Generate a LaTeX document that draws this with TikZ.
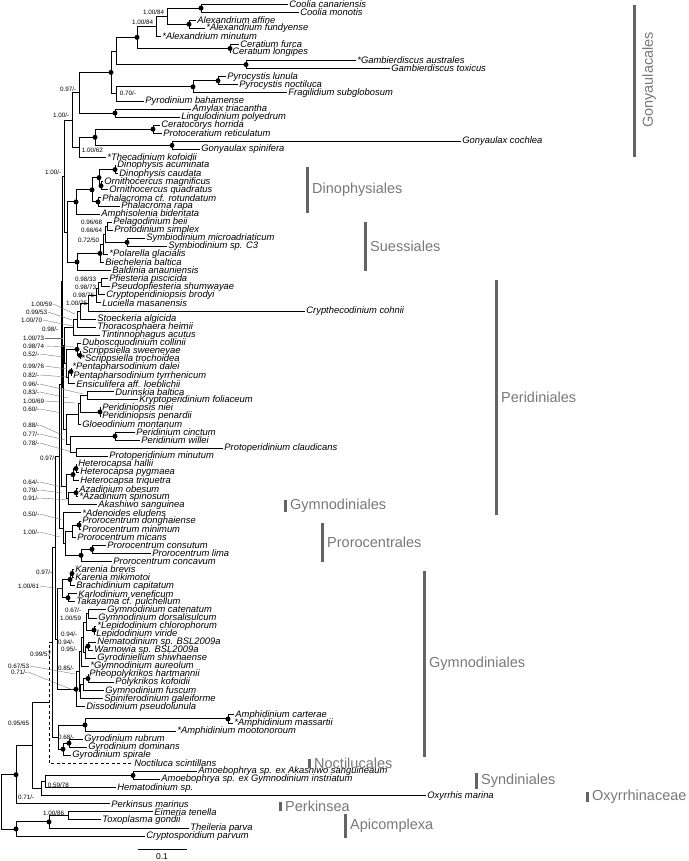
\documentclass[tikz,border=0pt]{standalone}
\usepackage{fontspec}
\setmainfont{Liberation Sans}
\usetikzlibrary{calc}
\definecolor{barc}{RGB}{100,100,100}
\definecolor{cladec}{RGB}{120,120,120}
\definecolor{leadc}{RGB}{110,110,110}
\newcommand\lfx[4]{\coordinate (#1) at (#3,{4+8.078*(#2)}); \node[taxon] (#1l) at (#1) {#4};}
\newcommand\clx[4]{%
  \path let \p1=(#3), \p2=(#4) in (#2pt,{0.5*\y1+0.5*\y2}) coordinate (#1);
  \draw[br] (#3) -- (#1 |- #3) -- (#1 |- #4) -- (#4);}
\newcommand\cld[4]{\clx{#1}{#2}{#3}{#4}\fill (#1) circle (2.5pt);}
\newcommand\supE[4]{\node[sup,anchor=east] (#1) at (#2,#3) {#4};}
\newcommand\supW[4]{\node[sup,anchor=west] (#1) at (#2,#3) {#4};}
\newcommand\lead[6]{\node[sup,anchor=east] (#1) at (#2,#3) {#4}; \coordinate (#1e) at (#5,#6); \draw[lead] (#1.east) -- (#1e);}
\newcommand\clade[5]{\draw[bar] (#1,#2) -- (#1,#3); \node[clade,anchor=west] (#4) at (#1+5,{0.5*#2+0.5*#3}) {#5};}
\begin{document}
\begin{tikzpicture}[x=1pt,y=-1pt,
  br/.style={line width=0.85pt,black},
  taxon/.style={anchor=west,inner xsep=1.2pt,inner ysep=0pt,font=\fontsize{9.4}{9.4}\selectfont\itshape},
  sup/.style={inner sep=0.6pt,font=\fontsize{6.3}{6.3}\selectfont},
  lead/.style={line width=0.35pt,leadc},
  bar/.style={line width=3pt,barc},
  clade/.style={text=cladec,inner sep=0pt,font=\fontsize{14.5}{14.5}\selectfont}]
\useasboundingbox (0,0) rectangle (688,861);
% ---------- leaves ----------
\lfx{L0}{0}{288}{Coolia canariensis}
\lfx{L1}{1}{299}{Coolia monotis}
\lfx{L2}{2}{196}{Alexandrium affine}
\lfx{L3}{3}{205}{*Alexandrium fundyense}
\lfx{L4}{4}{161}{*Alexandrium minutum}
\lfx{L5}{5}{239}{Ceratium furca}
\lfx{L6}{6}{231}{Ceratium longipes}
\lfx{L7}{7}{356}{*Gambierdiscus australes}
\lfx{L8}{8}{390}{Gambierdiscus toxicus}
\lfx{L9}{9}{226}{Pyrocystis lunula}
\lfx{L10}{10}{238}{Pyrocystis noctiluca}
\lfx{L11}{11}{287}{Fragilidium subglobosum}
\lfx{L12}{12}{144}{Pyrodinium bahamense}
\lfx{L13}{13}{191}{Amylax triacantha}
\lfx{L14}{14}{180}{Lingulodinium polyedrum}
\lfx{L15}{15}{160}{Ceratocorys horrida}
\lfx{L16}{16}{162}{Protoceratium reticulatum}
\lfx{L17}{17}{461}{Gonyaulax cochlea}
\lfx{L18}{18}{200}{Gonyaulax spinifera}
\lfx{L19}{19}{106}{*Thecadinium kofoidii}
\lfx{L20}{20}{116}{Dinophysis acuminata}
\lfx{L21}{21}{118}{Dinophysis caudata}
\lfx{L22}{22}{103}{Ornithocercus magnificus}
\lfx{L23}{23}{108}{Ornithocercus quadratus}
\lfx{L24}{24}{101}{Phalacroma cf. rotundatum}
\lfx{L25}{25}{120}{Phalacroma rapa}
\lfx{L26}{26}{100}{Amphisolenia bidentata}
\lfx{L27}{27}{112}{Pelagodinium beii}
\lfx{L28}{28}{113}{Protodinium simplex}
\lfx{L29}{29}{145}{Symbiodinium microadriaticum}
\lfx{L30}{30}{167}{Symbiodinium sp. C3}
\lfx{L31}{31}{108}{*Polarella glacialis}
\lfx{L32}{32}{104}{Biecheleria baltica}
\lfx{L33}{33}{111}{Baldinia anauniensis}
\lfx{L34}{34}{108}{Pfiesteria piscicida}
\lfx{L35}{35}{110}{Pseudopfiesteria shumwayae}
\lfx{L36}{36}{105}{Cryptoperidiniopsis brodyi}
\lfx{L37}{37}{101}{Luciella masanensis}
\lfx{L38}{38}{305}{Crypthecodinium cohnii}
\lfx{L39}{39}{96}{Stoeckeria algicida}
\lfx{L40}{40}{96}{Thoracosphaera heimii}
\lfx{L41}{41}{100}{Tintinnophagus acutus}
\lfx{L42}{42}{81}{Duboscquodinium collinii}
\lfx{L43}{43}{81}{Scrippsiella sweeneyae}
\lfx{L44}{44}{80}{*Scrippsiella trochoidea}
\lfx{L45}{45}{71}{*Pentapharsodinium dalei}
\lfx{L46}{46}{72}{Pentapharsodinium tyrrhenicum}
\lfx{L47}{47}{75}{Ensiculifera aff. loeblichii}
\lfx{L48}{48}{114}{Durinskia baltica}
\lfx{L49}{49}{138}{Kryptoperidinium foliaceum}
\lfx{L50}{50}{101}{Peridiniopsis niei}
\lfx{L51}{51}{101}{Peridiniopsis penardii}
\lfx{L52}{52}{81}{Gloeodinium montanum}
\lfx{L53}{53}{135}{Peridinium cinctum}
\lfx{L54}{54}{140}{Peridinium willei}
\lfx{L55}{55}{223}{Protoperidinium claudicans}
\lfx{L56}{56}{108}{Protoperidinium minutum}
\lfx{L57}{57}{77}{Heterocapsa hallii}
\lfx{L58}{58}{79}{Heterocapsa pygmaea}
\lfx{L59}{59}{79}{Heterocapsa triquetra}
\lfx{L60}{60}{78}{Azadinium obesum}
\lfx{L61}{61}{78}{*Azadinium spinosum}
\lfx{L62}{62}{97}{Akashiwo sanguinea}
\lfx{L63}{63}{81}{*Adenoides eludens}
\lfx{L64}{64}{81}{Prorocentrum donghaiense}
\lfx{L65}{65}{81}{Prorocentrum minimum}
\lfx{L66}{66}{76}{Prorocentrum micans}
\lfx{L67}{67}{106}{Prorocentrum consutum}
\lfx{L68}{68}{151}{Prorocentrum lima}
\lfx{L69}{69}{112}{Prorocentrum concavum}
\lfx{L70}{70}{74}{Karenia brevis}
\lfx{L71}{71}{74}{Karenia mikimotoi}
\lfx{L72}{72}{75}{Brachidinium capitatum}
\lfx{L73}{73}{77}{Karlodinium veneficum}
\lfx{L74}{74}{75}{Takayama cf. pulchellum}
\lfx{L75}{75}{106}{Gymnodinium catenatum}
\lfx{L76}{76}{97}{Gymnodinium dorsalisulcum}
\lfx{L77}{77}{96}{*Lepidodinium chlorophorum}
\lfx{L78}{78}{95}{Lepidodinium viride}
\lfx{L79}{79}{96}{Nematodinium sp. BSL2009a}
\lfx{L80}{80}{93}{Warnowia sp. BSL2009a}
\lfx{L81}{81}{96}{Gyrodiniellum shiwhaense}
\lfx{L82}{82}{89}{*Gymnodinium aureolum}
\lfx{L83}{83}{88}{Pheopolykrikos hartmannii}
\lfx{L84}{84}{114}{Polykrikos kofoidii}
\lfx{L85}{85}{104}{Gymnodinium fuscum}
\lfx{L86}{86}{103}{Spiniferodinium galeiforme}
\lfx{L87}{87}{85}{Dissodinium pseudolunula}
\lfx{L88}{88}{234}{Amphidinium carterae}
\lfx{L89}{89}{233}{*Amphidinium massartii}
\lfx{L90}{90}{176}{*Amphidinium mootonoroum}
\lfx{L91}{91}{83}{Gyrodinium rubrum}
\lfx{L92}{92}{87}{Gyrodinium dominans}
\lfx{L93}{93}{71}{Gyrodinium spirale}
\lfx{L94}{94}{133}{Noctiluca scintillans}
\lfx{L95}{95}{197}{Amoebophrya sp. ex {\itshape Akashiwo sanguineaum}}
\lfx{L96}{96}{160}{Amoebophrya sp. ex {\itshape Gymnodinium instriatum}}
\lfx{L97}{97}{116}{Hematodinium sp.}
\lfx{L98}{98}{426}{Oxyrrhis marina}
\lfx{L99}{99}{110}{Perkinsus marinus}
\lfx{L100}{100}{153}{Eimeria tenella}
\lfx{L101}{101}{101}{Toxoplasma gondii}
\lfx{L102}{102}{189}{Theileria parva}
\lfx{L103}{103}{145}{Cryptosporidium parvum}
% ---------- Gonyaulacales ----------
\cld{c1}{201}{L0}{L1}
\cld{c2}{189}{L2}{L3}
\clx{c3}{167}{c1}{c2}
\clx{c4}{156}{c3}{L4}
\cld{c5}{230}{L5}{L6}
\cld{c6}{137}{c4}{c5}
\cld{c7}{246}{L7}{L8}
\clx{c8}{116}{c6}{c7}
\cld{c9}{218}{L9}{L10}
\cld{c10}{193}{c9}{L11}
\clx{c11}{116}{c10}{L12}
\cld{c12}{111}{c8}{c11}
\cld{c13}{115}{L13}{L14}
\clx{c14}{79}{c12}{c13}
\cld{c15}{153}{L15}{L16}
\cld{c16}{172}{L17}{L18}
\cld{c17}{95}{c15}{c16}
\clx{c18}{79}{c17}{L19}
\clx{GON}{72}{c14}{c18}
% ---------- Dinophysiales / Suessiales ----------
\cld{d1}{115}{L20}{L21}
\cld{d2}{101}{L22}{L23}
\cld{d3}{99}{d1}{d2}
\cld{d4}{98}{L24}{L25}
\cld{d5}{92}{d3}{d4}
\cld{DIN}{76}{d5}{L26}
\clx{s1}{107}{L27}{L28}
\cld{s2}{127}{L29}{L30}
\clx{s3}{105}{s1}{s2}
\clx{s4}{103}{s3}{L31}
\cld{s5}{100}{s4}{L32}
\cld{SUE}{77}{s5}{L33}
\clx{DS}{67}{DIN}{SUE}
\clx{GDS}{64}{GON}{DS}
% ---------- Peridiniales ----------
\clx{p1}{101}{L34}{L35}
\clx{p2}{98}{p1}{L36}
\clx{p3}{96}{p2}{L37}
\clx{p4}{88}{p3}{L38}
\clx{p5}{80}{p4}{L39}
\clx{p6}{77}{p5}{L40}
\clx{p7}{73}{p6}{L41}
\cld{p8}{80}{L43}{L44}
\cld{p9}{77}{L42}{p8}
\cld{p10}{71}{L45}{L46}
\clx{p11}{68}{p10}{L47}
\clx{p12}{66}{p9}{p11}
\clx{p13}{64}{p7}{p12}
\clx{p14}{87}{L48}{L49}
\cld{p15}{100}{L50}{L51}
\clx{p16}{80}{p14}{p15}
\clx{p17}{78}{p16}{L52}
\cld{p18}{115}{L53}{L54}
\clx{p19}{76}{L55}{L56}
\clx{p20}{70}{p18}{p19}
\clx{p21}{66}{p17}{p20}
\clx{p22}{63}{p13}{p21}
\cld{p23}{76}{L57}{L58}
\cld{p24}{73}{p23}{L59}
\cld{p25}{76}{L60}{L61}
\clx{p26}{68}{p25}{L62}
\clx{p27}{66}{p24}{p26}
\clx{X1}{62}{GDS}{p22}
\clx{X1b}{61}{X1}{p27}
% ---------- Prorocentrales ----------
\cld{r1}{79}{L64}{L65}
\clx{r2}{72}{r1}{L66}
\cld{r3}{92}{L67}{L68}
\cld{r4}{81}{r3}{L69}
\clx{r5}{65}{r2}{r4}
\clx{r6}{63}{L63}{r5}
\clx{X2}{59}{X1b}{r6}
% ---------- Gymnodiniales ----------
\cld{k1}{72}{L70}{L71}
\cld{k2}{70}{k1}{L72}
\cld{k3}{68}{L73}{L74}
\clx{k4}{62}{k2}{k3}
\clx{g1}{88}{L75}{L76}
\cld{g2}{94}{L77}{L78}
\clx{g3}{86}{g1}{g2}
\cld{g4}{88}{L79}{L80}
\clx{g5}{85}{g4}{L81}
\clx{g6}{83}{g3}{g5}
\clx{g7}{81}{g6}{L82}
\cld{g8}{88}{L83}{L84}
\clx{g9}{83}{g8}{L85}
\clx{g10}{80}{g9}{L86}
\clx{g11}{79}{g7}{g10}
\cld{g12}{76}{g11}{L87}
\clx{Y1}{57}{k4}{g12}
\clx{X3}{55}{X2}{Y1}
\cld{a1}{228}{L88}{L89}
\cld{a2}{85}{a1}{L90}
\cld{y1}{69}{L91}{L92}
\cld{y2}{63}{y1}{L93}
\clx{a3}{58}{a2}{y2}
\clx{X4}{52}{X3}{a3}
% Noctiluca (dashed)
\path let \p1=(X4), \p2=(L94) in (49pt,{0.5*\y1+0.5*\y2}) coordinate (NX);
\draw[br,dashed,dash pattern=on 3pt off 2.5pt] (X4) -- (NX |- X4) -- (NX |- L94) -- (L94);
% ---------- outgroups ----------
\cld{sy1}{133}{L95}{L96}
\clx{sy2}{45}{sy1}{L97}
\clx{Q}{41}{sy2}{L98}
\clx{O1}{32}{NX}{Q}
\cld{PK}{16}{O1}{L99}
\clx{ap1}{68}{L100}{L101}
\cld{ap2}{49}{ap1}{L102}
\cld{ap3}{16}{ap2}{L103}
\clx{ROOT}{1}{PK}{ap3}
% ---------- support values ----------
\supE{b1}{165}{12}{1.00/84}
\supE{b2}{154}{22}{1.00/84}
\supW{b3}{119}{93}{0.70/-}
\supE{b4}{77}{89}{0.97/-}
\supE{b5}{70}{115}{1.00/-}
\supW{b6}{81}{150}{1.00/62}
\supE{b7}{62}{172}{1.00/-}
\supE{b8}{103}{222}{0.96/68}
\supE{b9}{103}{230}{0.66/64}
\supE{b10}{100}{240}{0.72/50}
\supE{b11}{97}{279}{0.98/33}
\supE{b12}{97}{287}{0.98/73}
\supE{b13}{95}{295}{0.98/76}
\supE{b14}{88}{303}{1.00/75}
\supE{b15}{59}{329}{0.98/-}
\supE{b16}{57}{458}{0.97/-}
\supE{b17}{53}{572}{0.97/-}
\supE{b18}{82}{610}{0.67/-}
\supE{b19}{82}{618}{1.00/59}
\supE{b20}{78}{634}{0.94/-}
\supE{b21}{75}{642}{0.94/-}
\supE{b22}{78}{649}{0.95/-}
\supE{b23}{75}{668}{0.85/-}
\supE{b24}{52}{654}{0.99/57}
\supE{b25}{75}{737}{0.68/-}
\supE{b26}{30}{723}{0.95/65}
\supW{b27}{47}{785}{0.59/78}
\supE{b28}{35}{797}{0.71/-}
\supE{b29}{65}{813}{1.00/86}
\lead{e1}{53}{304}{1.00/59}{75}{314}
\lead{e2}{48}{312}{0.99/53}{72}{320}
\lead{e3}{43}{320}{1.00/70}{73}{326}
\lead{e4}{45}{338}{1.00/73}{63}{338}
\lead{e5}{45}{346}{0.98/74}{75}{347}
\lead{e6}{40}{354}{0.52/-}{63}{357}
\lead{e7}{45}{366}{0.99/76}{67}{369}
\lead{e8}{40}{375}{0.82/-}{67}{377}
\lead{e9}{40}{384}{0.96/-}{83}{394}
\lead{e10}{40}{392}{0.83/-}{68}{398}
\lead{e11}{45}{401}{1.00/69}{75}{403}
\lead{e12}{40}{409}{0.60/-}{62}{413}
\lead{e13}{40}{425}{0.88/-}{62}{435}
\lead{e14}{40}{434}{0.77/-}{65}{440}
\lead{e15}{40}{443}{0.78/-}{72}{452}
\lead{e16}{40}{482}{0.64/-}{62}{487}
\lead{e17}{40}{490}{0.79/-}{62}{493}
\lead{e18}{40}{498}{0.91/-}{68}{500}
\lead{e19}{40}{514}{0.50/-}{62}{520}
\lead{e20}{40}{532}{1.00/-}{60}{537}
\lead{e21}{40}{586}{1.00/61}{62}{589}
\lead{e22}{30}{666}{0.67/53}{75}{674}
\lead{e23}{28}{672}{0.71/-}{73}{690}
% ---------- clade bars ----------
\draw[bar] (634,5) -- (634,157);
\node[clade,rotate=90] (tGon) at (649,80) {Gonyaulacales};
\clade{307}{167}{213}{tDin}{Dinophysiales}
\clade{365}{222}{271}{tSue}{Suessiales}
\clade{496}{280}{515}{tPer}{Peridiniales}
\clade{285}{500}{512}{tGy1}{Gymnodiniales}
\clade{322}{523}{562}{tPro}{Prorocentrales}
\clade{424}{571}{757}{tGy2}{Gymnodiniales}
\clade{309}{759}{768}{tNoc}{Noctilucales}
\clade{476}{773}{789}{tSyn}{Syndiniales}
\clade{587}{792}{802}{tOxy}{Oxyrrhinaceae}
\clade{280}{802}{811}{tPrk}{Perkinsea}
\clade{345}{814}{838}{tApi}{Apicomplexa}
% ---------- scale bar ----------
\coordinate (sb1) at (138,849);
\coordinate (sb2) at (187,849);
\draw[line width=0.85pt] (sb1) -- (sb2);
\node[font=\fontsize{8.5}{8.5}\selectfont,inner sep=0pt] (sbl) at (162,857) {0.1};
\end{tikzpicture}
\end{document}
